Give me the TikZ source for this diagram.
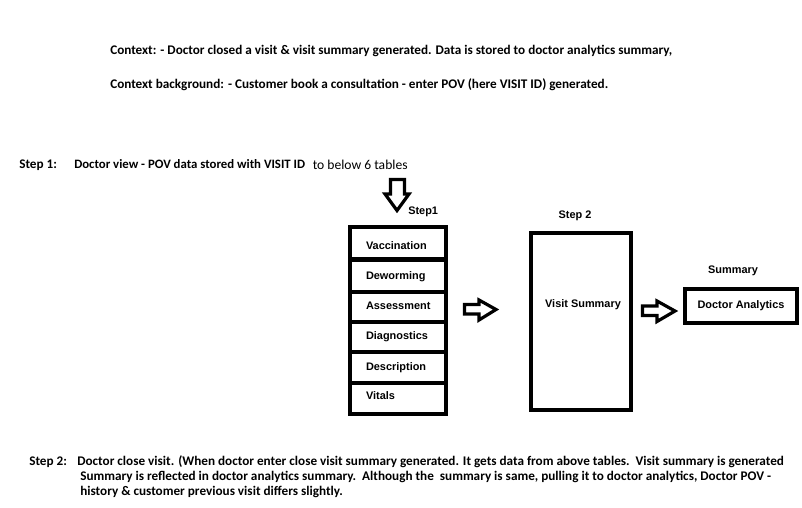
\documentclass[tikz,border=0pt]{standalone}
\usepackage{fontspec}
\setmainfont{Carlito}
\newfontfamily\boxfont{Liberation Sans}
\begin{document}
\begin{tikzpicture}[x=0.75pt,y=-0.75pt,
  ctx/.style={font=\bfseries\fontsize{9.9}{11}\selectfont, anchor=base west, inner sep=0pt},
  ctxreg/.style={font=\fontsize{10.2}{11}\selectfont, anchor=base west, inner sep=0pt},
  lbl/.style={font=\boxfont\bfseries\fontsize{8.2}{10}\selectfont, inner sep=0pt},
  tablerow/.style={draw, line width=3pt, minimum width=72pt, text width=48pt, inner xsep=12pt, inner ysep=0pt, align=left, minimum height=#1, text height=6pt, text depth=2pt, font=\boxfont\bfseries\fontsize{8.2}{10}\selectfont},
  thickbox/.style={draw, line width=3pt, inner sep=0pt},
  blockarrow/.style={draw, fill=white, line width=2.4pt, line join=miter}
]
\useasboundingbox (0,0) rectangle (802,507);

% context text
\node[ctx] (c1) at (110,54) {Context: - Doctor closed a visit \& visit summary generated. Data is stored to doctor analytics summary,};
\node[ctx] (c2) at (110,88) {Context background: - Customer book a consultation - enter POV (here VISIT ID) generated.};

% step 1 text
\node[ctx] (s1) at (19,168) {Step 1:};
\node[ctx, font=\bfseries\fontsize{9.6}{11}\selectfont] (s1t) at (74,168) {Doctor view - POV data stored with VISIT ID};
\node[ctxreg] (s1u) at (312.5,169.5) {to below 6 tables};

% table stack
\node[tablerow=24.4pt] (vac) at (398,243.25) {\raisebox{-2.8pt}{Vaccination}};
\node[tablerow=24.4pt] (dew) at (398,275.75) {\raisebox{-1pt}{Deworming}};
\node[tablerow=22.5pt] (ass) at (398,307) {Assessment};
\node[tablerow=22.5pt] (dia) at (398,337) {Diagnostics};
\node[tablerow=23.25pt] (des) at (398,367.5) {Description};
\node[tablerow=23.25pt] (vit) at (398,398.5) {\raisebox{1pt}{Vitals}};

\node[lbl, anchor=west] (step1) at (408,212) {Step1};

% visit summary
\node[thickbox, minimum width=75pt, minimum height=132.75pt] (vs) at (581,321.5) {};
\node[lbl] (vstext) at (583,305) {Visit Summary};
\node[lbl] (step2) at (575,216) {Step 2};

% doctor analytics
\node[thickbox, minimum width=84pt, minimum height=25.5pt, font=\boxfont\bfseries\fontsize{8.2}{10}\selectfont] (da) at (741,306) {Doctor Analytics};
\node[lbl] (sum) at (733,271) {Summary};

% block arrows
\draw[blockarrow] (390.5,179.5) -- (404.5,179.5) -- (404.5,194) -- (409,194) -- (397,210.5) -- (385,194) -- (390.5,194) -- cycle;
\draw[blockarrow] (464.5,304.5) -- (479,304.5) -- (479,300) -- (496,309.5) -- (479,320) -- (479,314) -- (464.5,314) -- cycle;
\draw[blockarrow] (642.5,306) -- (657,306) -- (657,301) -- (675,311) -- (657,321.5) -- (657,315.5) -- (642.5,315.5) -- cycle;

% step 2 text
\node[ctx] (s2) at (29,465) {Step 2:};
\node[ctx] (s2a) at (77,465) {Doctor close visit. (When doctor enter close visit summary generated. It gets data from above tables.\ \ Visit summary is generated};
\node[ctx] (s2b) at (80,480) {Summary is reflected in doctor analytics summary.\ \ Although the\ \ summary is same, pulling it to doctor analytics, Doctor POV -};
\node[ctx] (s2c) at (80,495) {history \& customer previous visit differs slightly.};
\end{tikzpicture}
\end{document}
